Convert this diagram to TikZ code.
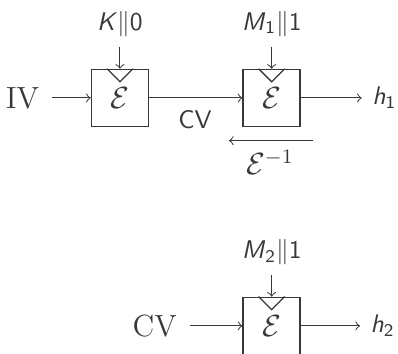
\documentclass[tikz,border=0pt]{standalone}
\usepackage{amsmath}

\begin{document}
\begin{tikzpicture}[
  x=1cm, y=1cm,
  color=black!78,
  every node/.style={inner sep=1pt},
  % the block cipher boxes, with the little key notch on top
  cipher/.style={draw, line width=0.6pt, minimum size=0.785cm, inner sep=0pt,
    font=\large},
  keyin/.style={anchor=south, inner sep=3.8pt},
  inval/.style={anchor=east, inner sep=5pt, font=\large},
  outval/.style={anchor=west, inner sep=4pt, font=\sffamily},
  arrow/.style={draw, line width=0.4pt, ->}]

  \useasboundingbox (0,0) rectangle (5.484,4.877);

  % boxes
  \node[cipher] (e1) at (1.653, 3.527) {$\mathcal{E}$};
  \node[cipher] (e2) at (3.743, 3.527) {$\mathcal{E}$};
  \node[cipher] (e3) at (3.743, 0.387) {$\mathcal{E}$};
  \foreach \b in {e1,e2,e3}
    \draw[line width=0.5pt] (\b.north) ++(-0.18,0) -- ++(0.18,-0.18) -- ++(0.18,0.18);

  % inputs and outputs
  \node[inval]  (iv)  at (0.721, 3.527) {IV};
  \node[keyin]  (k)   at (1.653, 4.234) {$\textsf{\textit{K}}\|\textsf{0}$};
  \node[keyin]  (m1)  at (3.743, 4.234) {$\textsf{\textit{M}}_{\textsf{1}}\|\textsf{1}$};
  \node[outval] (h1)  at (4.984, 3.527) {$\textsf{\textit{h}}_{\textsf{1}}$};
  \node[inval]  (cv)  at (2.618, 0.387) {CV};
  \node[keyin]  (m2)  at (3.743, 1.088) {$\textsf{\textit{M}}_{\textsf{2}}\|\textsf{1}$};
  \node[outval] (h2)  at (4.960, 0.387) {$\textsf{\textit{h}}_{\textsf{2}}$};

  % arrows
  \draw[arrow] (iv) -- (e1);
  \draw[arrow] (k)  -- (e1);
  \draw[arrow] (e1) -- (e2);
  \draw[arrow] (m1) -- (e2);
  \draw[arrow] (e2) -- (h1);
  \draw[arrow] (cv) -- (e3);
  \draw[arrow] (m2) -- (e3);
  \draw[arrow] (e3) -- (h2);

  % the inverse direction under the second box
  \coordinate (inv0) at (4.313, 2.939);
  \coordinate (inv1) at (3.155, 2.939);
  \draw[arrow] (inv0) -- (inv1);

  % labels printed inside the picture
  \node[font=\sffamily] (cvl) at (2.687, 3.224) {CV};
  \node[anchor=base, font=\large] (einv) at (3.720, 2.466) {$\mathcal{E}^{-1}$};
\end{tikzpicture}
\end{document}
